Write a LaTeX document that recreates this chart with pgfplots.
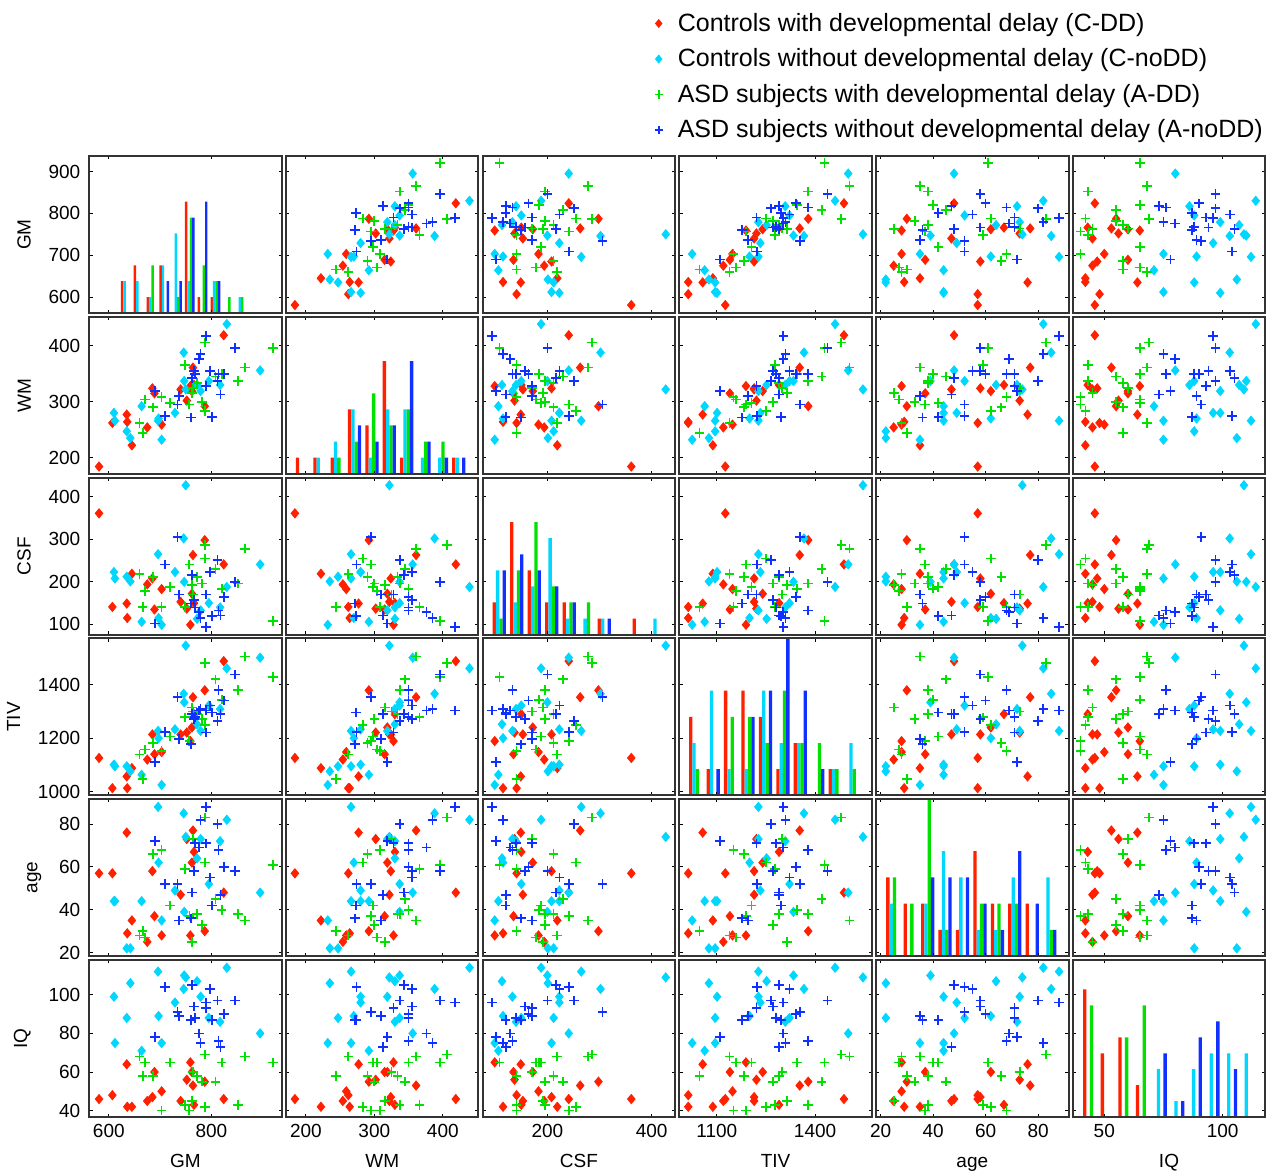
\documentclass[border=0pt]{standalone}
\usepackage{fontspec}
\setmainfont{Liberation Sans}
\usepackage{pgfplots}
\pgfplotsset{compat=1.18}
\usepackage{pgfplotstable}

\definecolor{cR}{RGB}{255,32,0}
\definecolor{cC}{RGB}{0,215,255}
\definecolor{cG}{RGB}{0,225,0}
\definecolor{cB}{RGB}{16,48,255}

\pgfplotstableread{
GM WM CSF TIV age IQ
581 184 361 1126 57 46
607 262 141 1013 57 48
635 277 149 1057 76 64
636 264 115 1013 29 42
645 222 219 1088 35 42
675 254 194 1120 25 45
685 324 208 1214 58 47
689 315 135 1140 37 60
703 259 183 1148 28 50
740 322 153 1214 47 45
752 302 137 1221 73 56
759 328 99 1189 28 65
762 319 172 1240 62 60
764 361 263 1353 77 53
766 330 150 1290 67 43
787 292 298 1379 30 55
824 419 241 1488 48 46
}\CDD

\pgfplotstableread{
GM WM CSF TIV age IQ
610 280 223 1101 44 99
612 266 208 1095 44 75
635 247 212 1095 22 88
642 235 201 1076 22 106
664 292 106 1063 44 71
696 266 265 1227 88 112
697 270 115 1200 62 89
703 232 99 1025 35 75
729 280 223 1233 49 96
746 388 302 1366 85 103
747 337 200 1334 39 110
750 322 427 1546 74 109
772 330 113 1252 64 107
779 319 133 1227 73 99
795 337 150 1322 52 88
817 330 140 1309 72 86
830 439 188 1461 82 114
895 356 241 1501 48 80
}\CnoDD

\pgfplotstableread{
GM WM CSF TIV age IQ
660 262 219 1139 28 68
666 244 141 1047 30 58
671 304 178 1158 27 65
686 290 212 1183 66 58
703 308 141 1151 68 40
719 298 188 1206 42 65
749 366 141 1278 59 43
757 295 241 1189 37 40
762 316 192 1315 25 45
764 325 170 1300 73 60
772 334 212 1290 38 58
782 300 196 1271 33 55
787 406 286 1480 83 69
788 283 255 1250 62 42
808 345 230 1420 45 55
820 350 184 1344 40 65
852 337 196 1379 38 43
866 361 278 1505 35 68
920 396 108 1429 61 65
}\ADD

\pgfplotstableread{
GM WM CSF TIV age IQ
690 319 102 1110 72 78
709 274 241 1223 52 104
734 295 306 1353 52 91
737 310 170 1196 35 89
760 272 149 1177 36 87
762 343 216 1290 48 105
766 355 157 1271 58 94
768 350 140 1280 71 88
776 376 129 1303 69 80
779 385 115 1310 82 75
789 418 94 1303 88 96
790 328 170 1221 71 93
797 355 223 1322 55 103
801 273 120 1296 42 87
812 337 251 1265 80 97
814 350 133 1379 68 76
818 313 121 1290 47 73
824 350 164 1341 60 90
846 396 200 1438 58 97
}\AnoDD

\pgfplotsset{
 XGM/.style={xmin=562,xmax=937,xtick={600,800}},
 YGM/.style={ymin=562,ymax=937,ytick={600,700,800,900}},
 XWM/.style={xmin=171,xmax=452,xtick={200,300,400}},
 YWM/.style={ymin=171,ymax=452,ytick={200,300,400}},
 XCSF/.style={xmin=76,xmax=445,xtick={200,400}},
 YCSF/.style={ymin=76,ymax=445,ytick={100,200,300,400}},
 XTIV/.style={xmin=986,xmax=1573,xtick={1100,1400}},
 YTIV/.style={ymin=986,ymax=1573,ytick={1000,1200,1400}},
 Xage/.style={xmin=18.3,xmax=91.6,xtick={20,40,60,80}},
 Yage/.style={ymin=18.3,ymax=91.6,ytick={20,40,60,80}},
 XIQ/.style={xmin=36.7,xmax=118,xtick={50,100}},
 YIQ/.style={ymin=36.7,ymax=118,ytick={40,60,80,100}},
 nox/.style={xticklabels={}},
 noy/.style={yticklabels={}},
 panel/.style={scale only axis, width=96.2pt, height=78.5pt, anchor=north west,
   axis line style={line width=1pt, black!80},
   tick style={line width=0.5pt, black},
   major tick length=1.6pt,
   scaled ticks=false,
   tick label style={font=\fontsize{9.5}{10}\selectfont},
   label style={font=\fontsize{9.5}{10}\selectfont},
   xlabel style={text height=7pt, text depth=2pt, yshift=-1pt},
   yticklabel style={xshift=-1pt},
   ylabel shift=2pt,
   /pgf/number format/assume math mode=true,
   /pgf/number format/1000 sep={}},
 hpanel/.style={scale only axis, width=96.2pt, height=78.5pt, anchor=north west,
   hide axis, ymin=0},
 mR/.style={only marks, mark=diamond*, mark size=2.3pt, color=cR, mark options={xscale=1.1}},
 mC/.style={only marks, mark=diamond*, mark size=2.3pt, color=cC, mark options={xscale=1.1}},
 mG/.style={only marks, mark=+, mark size=2.4pt, color=cG, line width=0.85pt},
 mB/.style={only marks, mark=+, mark size=2.4pt, color=cB, line width=0.85pt},
}

\newcommand{\scp}[5]{%
\begin{axis}[panel, at={(#1pt,#2pt)}, X#3, Y#4, #5]
\addplot[mR] table[x=#3,y=#4]{\CDD};
\addplot[mC] table[x=#3,y=#4]{\CnoDD};
\addplot[mG] table[x=#3,y=#4]{\ADD};
\addplot[mB] table[x=#3,y=#4]{\AnoDD};
\end{axis}}

\newcommand{\frm}[4]{%
\begin{axis}[panel, at={(#1pt,#2pt)}, X#3, Y#3, #4]
\addplot[draw=none, forget plot] coordinates {(1000,1000)};
\end{axis}}

\newcommand{\hist}[9]{%
\begin{axis}[hpanel, at={(#1pt,#2pt)}, xmin=#3, xmax=#4, ymax=#5]
\addplot[ybar, bar width=0.19, bar shift=-0.285, fill=cR, draw=none] coordinates {#6};
\addplot[ybar, bar width=0.19, bar shift=-0.095, fill=cC, draw=none] coordinates {#7};
\addplot[ybar, bar width=0.19, bar shift=0.095, fill=cG, draw=none] coordinates {#8};
\addplot[ybar, bar width=0.19, bar shift=0.285, fill=cB, draw=none] coordinates {#9};
\end{axis}}

\begin{document}
\begin{tikzpicture}
\useasboundingbox (0,0) rectangle (636.5pt,-585.5pt);

% ---------- row 0 : GM ----------
\hist{44.65}{-78}{-2.852}{12.18}{9.87}%
 {(0,2)(1,3)(2,1)(3,3)(5,7)(6,1)(7,1)}%
 {(0,2)(1,2)(2,1)(3,3)(4,5)(5,2)(7,2)(9,1)}%
 {(2,3)(4,1)(5,6)(6,3)(7,2)(8,1)(9,1)}%
 {(3,2)(4,2)(5,6)(6,7)(7,2)}
\frm{44.65}{-78}{GM}{nox, ylabel=GM}
\scp{143.0}{-78}{WM}{GM}{nox,noy}
\scp{241.35}{-78}{CSF}{GM}{nox,noy}
\scp{339.7}{-78}{TIV}{GM}{nox,noy}
\scp{438.05}{-78}{age}{GM}{nox,noy}
\scp{536.4}{-78}{IQ}{GM}{nox,noy,
  legend entries={{Controls with developmental delay (C-DD)},{Controls without developmental delay (C-noDD)},{ASD subjects with developmental delay (A-DD)},{ASD subjects without developmental delay (A-noDD)}},
  legend cell align=left,
  legend image post style={scale=0.85},
  legend style={draw=none, fill=none, at={(axis description cs:1,1)}, anchor=south east, yshift=6.5pt,
    font=\fontsize{12.5}{14}\selectfont, row sep=5.2pt, inner sep=0pt, nodes={inner sep=1pt},
    /tikz/every odd column/.append style={column sep=6.5pt}}}

% ---------- row 1 : WM ----------
\scp{44.65}{-158.4}{GM}{WM}{nox, ylabel=WM}
\hist{143.0}{-158.4}{-0.95}{10.13}{9.75}%
 {(0,1)(1,1)(2,1)(3,4)(4,3)(5,7)(6,1)(9,1)}%
 {(1,1)(2,2)(3,4)(4,1)(5,4)(6,4)(7,1)(8,1)(9,1)}%
 {(2,1)(3,2)(4,5)(5,3)(6,4)(7,2)(8,2)}%
 {(3,3)(4,2)(5,3)(6,7)(7,2)(8,1)(9,1)}
\frm{143.0}{-158.4}{WM}{nox,noy}
\scp{241.35}{-158.4}{CSF}{WM}{nox,noy}
\scp{339.7}{-158.4}{TIV}{WM}{nox,noy}
\scp{438.05}{-158.4}{age}{WM}{nox,noy}
\scp{536.4}{-158.4}{IQ}{WM}{nox,noy}

% ---------- row 2 : CSF ----------
\scp{44.65}{-238.8}{GM}{CSF}{nox, ylabel=CSF}
\scp{143.0}{-238.8}{WM}{CSF}{nox,noy}
\hist{241.35}{-238.8}{-0.949}{10.05}{9.77}%
 {(0,2)(1,7)(2,4)(3,2)(4,2)(6,1)(8,1)}%
 {(0,4)(1,2)(2,3)(3,6)(4,1)(5,1)(6,1)(9,1)}%
 {(0,1)(1,4)(2,7)(3,3)(4,2)(5,2)}%
 {(0,4)(1,5)(2,4)(3,3)(4,2)(6,1)}
\frm{241.35}{-238.8}{CSF}{nox,noy}
\scp{339.7}{-238.8}{TIV}{CSF}{nox,noy}
\scp{438.05}{-238.8}{age}{CSF}{nox,noy}
\scp{536.4}{-238.8}{IQ}{CSF}{nox,noy}

% ---------- row 3 : TIV ----------
\scp{44.65}{-319.2}{GM}{TIV}{nox, ylabel=TIV}
\scp{143.0}{-319.2}{WM}{TIV}{nox,noy}
\scp{241.35}{-319.2}{CSF}{TIV}{nox,noy}
\hist{339.7}{-319.2}{-0.935}{10.1}{6}%
 {(0,3)(1,1)(2,4)(3,4)(4,3)(5,1)(6,2)(8,1)}%
 {(0,2)(1,4)(2,1)(3,1)(4,4)(5,2)(6,2)(8,1)(9,2)}%
 {(0,1)(2,3)(3,3)(4,2)(5,4)(6,2)(7,2)(8,1)(9,1)}%
 {(1,1)(3,3)(4,4)(5,6)(6,4)(7,1)}
\frm{339.7}{-319.2}{TIV}{nox,noy}
\scp{438.05}{-319.2}{age}{TIV}{nox,noy}
\scp{536.4}{-319.2}{IQ}{TIV}{nox,noy}

% ---------- row 4 : age ----------
\scp{44.65}{-399.6}{GM}{age}{nox, ylabel=age}
\scp{143.0}{-399.6}{WM}{age}{nox,noy}
\scp{241.35}{-399.6}{CSF}{age}{nox,noy}
\scp{339.7}{-399.6}{TIV}{age}{nox,noy}
\hist{438.05}{-399.6}{-0.958}{10.08}{5.97}%
 {(0,3)(1,2)(2,2)(3,1)(4,1)(5,4)(6,2)(7,2)(8,2)}%
 {(0,2)(2,2)(3,4)(4,3)(5,1)(6,1)(7,3)(9,3)}%
 {(0,3)(1,2)(2,6)(3,1)(5,2)(6,2)(7,2)(9,1)}%
 {(2,3)(3,3)(4,3)(5,2)(6,1)(7,4)(8,2)(9,1)}
\frm{438.05}{-399.6}{age}{nox,noy}
\scp{536.4}{-399.6}{IQ}{age}{nox,noy}

% ---------- row 5 : IQ ----------
\scp{44.65}{-480}{GM}{IQ}{xlabel=GM, ylabel=IQ}
\scp{143.0}{-480}{WM}{IQ}{xlabel=WM, noy}
\scp{241.35}{-480}{CSF}{IQ}{xlabel=CSF, noy}
\scp{339.7}{-480}{TIV}{IQ}{xlabel=TIV, noy}
\scp{438.05}{-480}{age}{IQ}{xlabel=age, noy}
\hist{536.4}{-480}{-0.968}{9.98}{9.85}%
 {(0,8)(1,4)(2,5)(3,2)}%
 {(4,3)(5,1)(6,3)(7,4)(8,4)(9,4)}%
 {(0,7)(2,5)(3,7)}%
 {(4,4)(5,1)(6,5)(7,6)(8,3)}
\frm{536.4}{-480}{IQ}{xlabel=IQ, noy}
\end{tikzpicture}
\end{document}
